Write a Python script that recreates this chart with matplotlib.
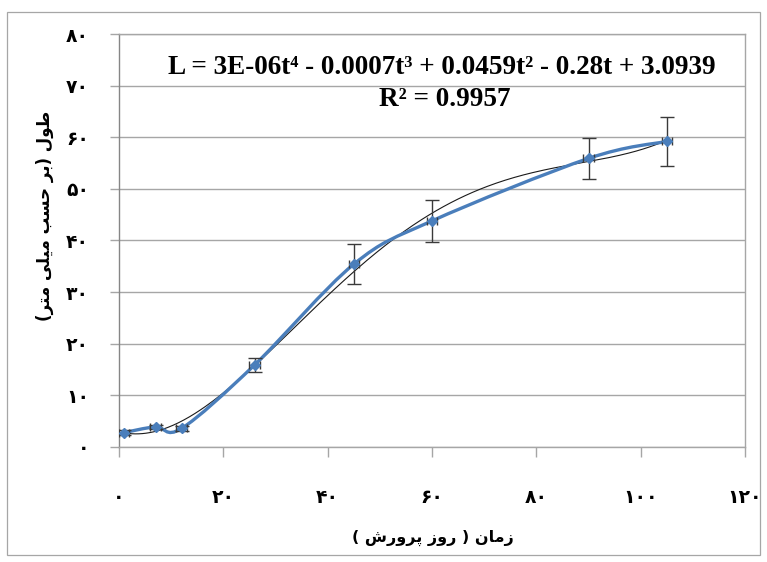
import numpy as np
import matplotlib
matplotlib.use("Agg")
import matplotlib.pyplot as plt
from matplotlib.path import Path
from matplotlib.patches import PathPatch, Rectangle

# ---------------- data ----------------
days = [1, 7, 12, 26, 45, 60, 90, 105]
length_mm = [2.8, 3.9, 3.6, 15.9, 35.4, 43.8, 55.9, 59.2]
length_err = [0.4, 0.4, 0.5, 1.4, 3.9, 4.0, 4.0, 4.7]
days_err = [1, 1, 1, 1, 1, 1, 1, 1]

x_ticks = [0, 20, 40, 60, 80, 100, 120]
y_ticks = [0, 10, 20, 30, 40, 50, 60, 70, 80]

y_label = "طول (بر حسب میلی متر)"
x_label = "زمان ( روز پرورش )"
equation = "L = 3E-06t⁴ - 0.0007t³ + 0.0459t² - 0.28t + 3.0939"
r2_text = "R² = 0.9957"

# ------------- simple Persian shaping (matplotlib has no complex text layout) -------------
FORMS = {
    'ا': ('\uFE8D', '\uFE8E'),
    'ب': ('\uFE8F', '\uFE90', '\uFE91', '\uFE92'),
    'پ': ('\uFB56', '\uFB57', '\uFB58', '\uFB59'),
    'ت': ('\uFE95', '\uFE96', '\uFE97', '\uFE98'),
    'ح': ('\uFEA1', '\uFEA2', '\uFEA3', '\uFEA4'),
    'ر': ('\uFEAD', '\uFEAE'),
    'ز': ('\uFEAF', '\uFEB0'),
    'س': ('\uFEB1', '\uFEB2', '\uFEB3', '\uFEB4'),
    'ش': ('\uFEB5', '\uFEB6', '\uFEB7', '\uFEB8'),
    'ط': ('\uFEC1', '\uFEC2', '\uFEC3', '\uFEC4'),
    'ل': ('\uFEDD', '\uFEDE', '\uFEDF', '\uFEE0'),
    'م': ('\uFEE1', '\uFEE2', '\uFEE3', '\uFEE4'),
    'ن': ('\uFEE5', '\uFEE6', '\uFEE7', '\uFEE8'),
    'و': ('\uFEED', '\uFEEE'),
    'ی': ('\uFBFC', '\uFBFD', '\uFBFE', '\uFBFF'),
}
MIRROR = {'(': ')', ')': '('}


def shape_rtl(s):
    out = []
    for i, c in enumerate(s):
        if c not in FORMS:
            out.append(c)
            continue
        prev = s[i - 1] if i > 0 else ''
        nxt = s[i + 1] if i + 1 < len(s) else ''
        pj = prev in FORMS and len(FORMS[prev]) == 4
        nj = len(FORMS[c]) == 4 and nxt in FORMS
        f = FORMS[c]
        if pj and nj:
            out.append(f[3])
        elif nj:
            out.append(f[2])
        elif pj:
            out.append(f[1])
        else:
            out.append(f[0])
    return ''.join(MIRROR.get(ch, ch) for ch in reversed(out))


def fa_digits(v):
    return str(int(v)).translate(str.maketrans('0123456789', '۰۱۲۳۴۵۶۷۸۹'))


# ---------------- figure ----------------
W, H = 767, 562
fig = plt.figure(figsize=(W / 100, H / 100), dpi=100)
fig.patch.set_facecolor('white')
fig.add_artist(Rectangle((7 / W, 1 - 555 / H), 753 / W, 543 / H, transform=fig.transFigure,
                         fill=False, edgecolor='#a6a6a6', linewidth=0.9))

ax = fig.add_axes([119 / W, 1 - 447 / H, (745 - 119) / W, (447 - 34) / H])
ax.set_xlim(0, 120)
ax.set_ylim(0, 80)

grid_c = '#a6a6a6'
ax.set_yticks(y_ticks)
ax.set_xticks(x_ticks)
ax.yaxis.grid(True, color=grid_c, linewidth=1.0)
ax.set_axisbelow(True)
for side in ['top', 'right', 'bottom']:
    ax.spines[side].set_color(grid_c)
    ax.spines[side].set_linewidth(1.0)
ax.spines['left'].set_color('#868686')
ax.spines['left'].set_linewidth(1.0)

tick_font = dict(family=['DejaVu Sans'], weight='bold', size=13.5)
ax.set_yticklabels([fa_digits(v) for v in y_ticks], **tick_font)
ax.set_xticklabels([fa_digits(v) for v in x_ticks], **tick_font)
ax.tick_params(axis='y', length=6.5, width=1.0, color=grid_c, pad=15)
ax.tick_params(axis='x', length=7.5, width=1.0, color=grid_c, pad=22)

# trend line (4th degree polynomial fit of the data, like the spreadsheet trendline)
coef = np.polyfit(days, length_mm, 4)
tt = np.linspace(min(days), max(days), 300)
ax.plot(tt, np.polyval(coef, tt), color='#1a1a1a', linewidth=0.8, zorder=3)

# smoothed series line (Bezier through the points, like a spreadsheet smoothed line)
px = np.array(days, dtype=float)
py = np.array(length_mm, dtype=float)
n = len(px)
verts = [(px[0], py[0])]
codes = [Path.MOVETO]
for i in range(n - 1):
    p0 = np.array([px[max(i - 1, 0)], py[max(i - 1, 0)]])
    p1 = np.array([px[i], py[i]])
    p2 = np.array([px[i + 1], py[i + 1]])
    p3 = np.array([px[min(i + 2, n - 1)], py[min(i + 2, n - 1)]])
    c1 = p1 + (p2 - p0) / 6.0
    c2 = p2 - (p3 - p1) / 6.0
    verts += [tuple(c1), tuple(c2), tuple(p2)]
    codes += [Path.CURVE4] * 3
ax.add_patch(PathPatch(Path(verts, codes), fill=False, edgecolor='#4a7ebb',
                       linewidth=2.4, zorder=4, capstyle='round'))

ax.errorbar(days, length_mm, yerr=length_err, fmt='none',
            ecolor='#3a3a3a', elinewidth=1.0, capsize=5, capthick=1.0, zorder=5)
ax.errorbar(days, length_mm, xerr=days_err, fmt='none',
            ecolor='#3a3a3a', elinewidth=1.0, capsize=3, capthick=1.0, zorder=5)
ax.plot(days, length_mm, linestyle='none', marker='D', markersize=5,
        color='#4a7ebb', zorder=6)

# equation text
eq_font = dict(family=['Liberation Serif', 'DejaVu Serif'], weight='bold', size=19.5)
fig.text(442 / W, 1 - 67 / H, equation, ha='center', va='center', **eq_font)
fig.text(445 / W, 1 - 100 / H, r2_text, ha='center', va='center', **eq_font)

# axis titles
fig.text(45 / W, 1 - 216 / H, shape_rtl(y_label), rotation=90, ha='center', va='center',
         family=['DejaVu Sans'], weight='bold', size=12)
fig.text(433 / W, 1 - 538 / H, shape_rtl(x_label), ha='center', va='center',
         family=['DejaVu Sans'], weight='bold', size=11.5)

fig.savefig('out.png', dpi=100, facecolor='white')
